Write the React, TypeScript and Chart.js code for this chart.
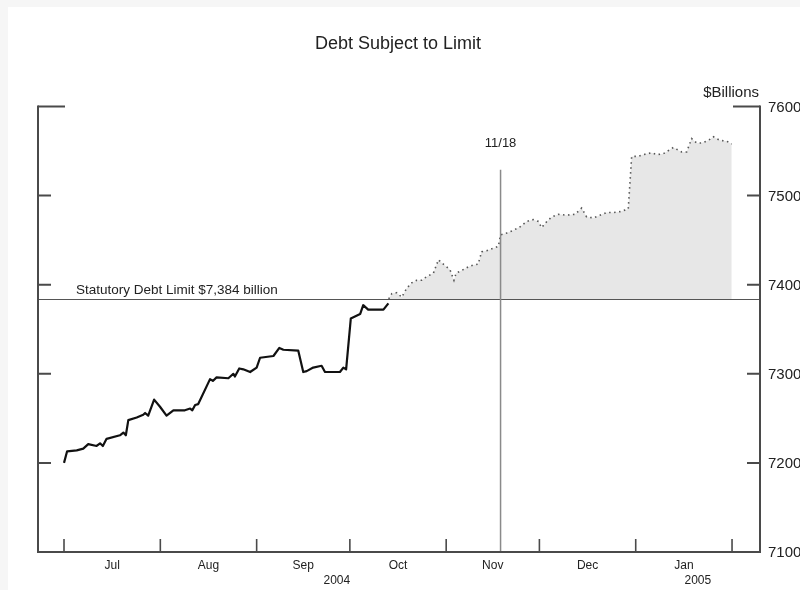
import React, { useEffect, useRef } from "react";
import { Chart, registerables } from "chart.js";

Chart.register(...registerables);

// x values are days since 1 July 2004
const actualDays = [0, 1, 4.1, 6.2, 7.8, 10.5, 11.6, 12.5, 13.7, 18, 19.1, 19.9, 20.7, 23.4, 25.5, 26.1, 27.1, 29, 30.9, 33, 35.2, 38.9, 40.6, 41.3, 42.2, 43.2, 47, 47.9, 49.1, 52.9, 54.5, 55, 56.4, 57.7, 59.9, 62, 63.1, 67.4, 69.3, 70.6, 75.4, 77, 78.1, 80.2, 82.9, 84, 88.8, 89.9, 90.8, 92.3, 95.3, 96.3, 97.9, 102.8, 104.4];
const actualValues = [7200, 7213, 7214, 7216, 7221, 7219, 7222, 7219, 7227, 7231, 7234, 7231, 7248, 7251, 7254, 7256, 7253, 7271, 7263, 7253, 7259, 7259, 7261, 7259, 7265, 7266, 7294, 7292, 7296, 7295, 7300, 7297, 7306, 7305, 7302, 7307, 7318, 7320, 7329, 7327, 7326, 7302, 7303, 7307, 7309, 7302, 7302, 7307, 7305, 7362, 7367, 7377, 7372, 7372, 7379];

const projectedDays = [104.5, 105.5, 107.1, 108.7, 110.3, 111.9, 113.5, 115.1, 116.7, 118.9, 120.5, 122.1, 124.2, 125.5, 126.2, 128, 130.1, 131.7, 133.3, 134.4, 136, 138.2, 139.8, 140.5, 142.5, 144.6, 146.8, 148.9, 151, 152.7, 153.7, 155.4, 157, 159.1, 161.8, 164.5, 166.6, 168.2, 170.4, 172.5, 174.7, 176.8, 178.9, 181.6, 182.7, 184.8, 186.4, 189.1, 190.8, 192.9, 196.1, 198.8, 200.4, 202, 203.6, 205.2, 207.4, 209, 211.1, 213.3, 214.9];
const projectedValues = [7384, 7390, 7391, 7386, 7396, 7402, 7405, 7405, 7409, 7413, 7428, 7423, 7417, 7405, 7413, 7416, 7420, 7422, 7423, 7437, 7438, 7441, 7443, 7456, 7458, 7461, 7465, 7471, 7473, 7471, 7464, 7471, 7476, 7479, 7478, 7479, 7486, 7476, 7475, 7478, 7481, 7481, 7482, 7485, 7544, 7544, 7546, 7548, 7546, 7547, 7554, 7549, 7549, 7564, 7559, 7559, 7562, 7566, 7562, 7561, 7558];

const debtLimit = 7384;
const debtLimitLabel = "Statutory Debt Limit $7,384 billion";
const markerDay = 140.5; // 11/18
const markerLabel = "11/18";
const markerTopValue = 7529;

const monthStartDays = [0, 31, 62, 92, 123, 153, 184, 215];
const monthLabels = ["Jul", "Aug", "Sep", "Oct", "Nov", "Dec", "Jan"];
const yearLabels = ["2004", "2005"];
const yearStartDay = 184;
const yTicks = [7100, 7200, 7300, 7400, 7500, 7600];

const X_MIN = -8.37;
const X_MAX = 224.0;
const FONT = "'Liberation Sans', Arial, sans-serif";

const decorPlugin = {
  id: "decor",
  beforeDraw(chart: any) {
    const ctx = chart.ctx;
    ctx.save();
    ctx.fillStyle = "#f6f6f6";
    ctx.fillRect(0, 0, chart.width, chart.height);
    ctx.fillStyle = "#ffffff";
    ctx.fillRect(8, 7, chart.width - 8, chart.height - 7);
    ctx.restore();
  },
  afterDatasetsDraw(chart: any) {
    const ctx = chart.ctx;
    const xs = chart.scales.x;
    const ys = chart.scales.y;
    const { left, right, top, bottom } = chart.chartArea;
    ctx.save();

    // debt limit line
    const yl = Math.round(ys.getPixelForValue(debtLimit)) + 0.5;
    ctx.strokeStyle = "#555";
    ctx.lineWidth = 1;
    ctx.beginPath();
    ctx.moveTo(left, yl);
    ctx.lineTo(right, yl);
    ctx.stroke();

    // 11/18 marker line
    const xm = xs.getPixelForValue(markerDay);
    ctx.strokeStyle = "#8a8a8a";
    ctx.lineWidth = 1.5;
    ctx.beginPath();
    ctx.moveTo(xm, ys.getPixelForValue(markerTopValue));
    ctx.lineTo(xm, bottom);
    ctx.stroke();

    // frame
    ctx.strokeStyle = "#4a4a4a";
    ctx.lineWidth = 2;
    ctx.lineCap = "square";
    ctx.beginPath();
    ctx.moveTo(left, top);
    ctx.lineTo(left, bottom);
    ctx.lineTo(right, bottom);
    ctx.lineTo(right, top);
    ctx.stroke();
    ctx.lineCap = "butt";

    // y ticks (inward)
    yTicks.forEach((v) => {
      if (v === yTicks[0]) return;
      const py = ys.getPixelForValue(v);
      const len = v === yTicks[yTicks.length - 1] ? 27 : 13;
      ctx.beginPath();
      ctx.moveTo(left, py);
      ctx.lineTo(left + len, py);
      ctx.moveTo(right, py);
      ctx.lineTo(right - len, py);
      ctx.stroke();
    });

    // x ticks (inward) at month starts
    ctx.lineWidth = 1.6;
    monthStartDays.forEach((d) => {
      const px = xs.getPixelForValue(d);
      ctx.beginPath();
      ctx.moveTo(px, bottom);
      ctx.lineTo(px, bottom - 13);
      ctx.stroke();
    });

    // texts
    ctx.fillStyle = "#222";
    ctx.textBaseline = "middle";

    ctx.font = `18px ${FONT}`;
    ctx.textAlign = "center";
    ctx.fillText("Debt Subject to Limit", 398, 44);

    ctx.font = `15px ${FONT}`;
    ctx.textAlign = "right";
    ctx.fillText("$Billions", 759, 93);

    ctx.textAlign = "left";
    ctx.font = `15px ${FONT}`;
    yTicks.forEach((v) => {
      ctx.fillText(String(v), right + 8, ys.getPixelForValue(v) + 1);
    });

    ctx.font = `13.5px ${FONT}`;
    ctx.fillText(debtLimitLabel, 76, ys.getPixelForValue(debtLimit) - 9);

    ctx.font = `13px ${FONT}`;
    ctx.textAlign = "center";
    ctx.fillText(markerLabel, xm, 143);

    ctx.font = `12px ${FONT}`;
    monthLabels.forEach((m, i) => {
      const c = (monthStartDays[i] + monthStartDays[i + 1]) / 2;
      ctx.fillText(m, xs.getPixelForValue(c), bottom + 14);
    });
    const yearCenters = [(X_MIN + yearStartDay) / 2, (yearStartDay + X_MAX) / 2];
    yearLabels.forEach((y, i) => {
      ctx.fillText(y, xs.getPixelForValue(yearCenters[i]), bottom + 29);
    });

    ctx.restore();
  },
};

export default function App() {
  const ref = useRef<HTMLCanvasElement | null>(null);
  useEffect(() => {
    if (!ref.current) return;
    const chart = new Chart(ref.current, {
      type: "line",
      data: {
        datasets: [
          {
            label: "Projected",
            data: projectedDays.map((d, i) => ({ x: d, y: projectedValues[i] })),
            borderColor: "#555",
            borderWidth: 1.6,
            borderDash: [1.5, 3.5],
            backgroundColor: "#e7e7e7",
            fill: { value: debtLimit },
            pointRadius: 0,
            tension: 0,
          },
          {
            label: "Actual",
            data: actualDays.map((d, i) => ({ x: d, y: actualValues[i] })),
            borderColor: "#111",
            borderWidth: 2.2,
            fill: false,
            pointRadius: 0,
            tension: 0,
            borderJoinStyle: "round",
          },
        ],
      },
      options: {
        responsive: false,
        animation: false,
        layout: { padding: { left: 38, right: 40, top: 106.5, bottom: 38 } },
        scales: {
          x: { type: "linear", min: X_MIN, max: X_MAX, display: false },
          y: { type: "linear", min: 7100, max: 7600, display: false },
        },
        plugins: {
          legend: { display: false },
          tooltip: { enabled: false },
          title: { display: false },
        },
      },
      plugins: [decorPlugin],
    } as any);
    return () => chart.destroy();
  }, []);
  return (
    <div style={{ position: "fixed", left: 0, top: 0, width: 800, height: 590 }}>
      <canvas ref={ref} width={800} height={590} />
    </div>
  );
}
